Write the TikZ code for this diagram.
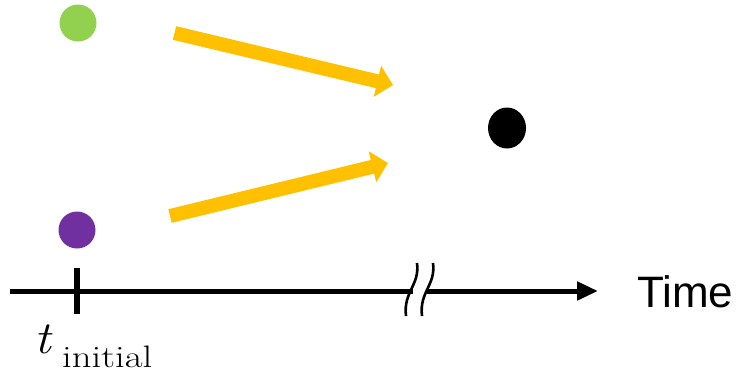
\documentclass[tikz,border=0pt]{standalone}
\usepackage{fontspec}
\usepackage{graphicx}
\newfontfamily\timefont{Liberation Sans}
\usetikzlibrary{arrows.meta,shapes.geometric}
\definecolor{dotgreen}{HTML}{92D050}
\definecolor{dotpurple}{HTML}{7030A0}
\definecolor{arrowyellow}{HTML}{FFC000}
\tikzset{
  dot/.style={circle,inner sep=0pt,minimum size=37pt,draw=none},
  flow/.style={draw=arrowyellow,line width=14pt,-{Triangle[length=16pt,width=31pt]}},
  axis/.style={line width=5pt},
  breakmark/.style={line width=2.6pt},
}
\begin{document}
\begin{tikzpicture}[x=1pt,y=-1pt]
\useasboundingbox (0,0) rectangle (741,376);
% dots
\node[dot,fill=dotgreen] (green) at (78,23) {};
\node[dot,fill=dotpurple] (purple) at (77,230) {};
\node[ellipse,inner sep=0pt,minimum width=38pt,minimum height=41pt,fill=black] (black) at (507,128) {};
% flow arrows
\coordinate (a1s) at (174.5,33);
\coordinate (a1e) at (393,85);
\coordinate (a2s) at (170,216);
\coordinate (a2e) at (388,163);
\draw[flow] (a1s) -- (a1e);
\draw[flow] (a2s) -- (a2e);
% axis
\coordinate (ax0) at (10,291);
\coordinate (axb1) at (413,291);
\coordinate (axb2) at (427,291);
\coordinate (ax1) at (598,291);
\draw[axis] (ax0) -- (axb1);
\draw[axis,-{Triangle[length=21pt,width=18pt]}] (axb2) -- (ax1);
% tick
\coordinate (tk0) at (77,268);
\coordinate (tk1) at (77,314);
\draw[line width=6.5pt] (tk0) -- (tk1);
% break marks
\coordinate (b1t) at (417,263);
\coordinate (b1b) at (406,316);
\coordinate (b2t) at (433,263);
\coordinate (b2b) at (422,316);
\draw[breakmark] (b1t) .. controls (420,285) and (403,292) .. (b1b);
\draw[breakmark] (b2t) .. controls (436,285) and (419,292) .. (b2b);
% labels
\node[anchor=base west,inner sep=0pt] (tlabel) at (34,353) {\makebox[28pt][l]{\scalebox{1.1}[1]{\fontsize{46}{50}\selectfont\itshape t}}\raisebox{-14pt}{\scalebox{1.25}[1]{\fontsize{31}{36}\selectfont initial}}};
\node[anchor=base west,inner sep=0pt] (timelabel) at (637,307) {\timefont\fontsize{44}{50}\selectfont Time};
\end{tikzpicture}
\end{document}
